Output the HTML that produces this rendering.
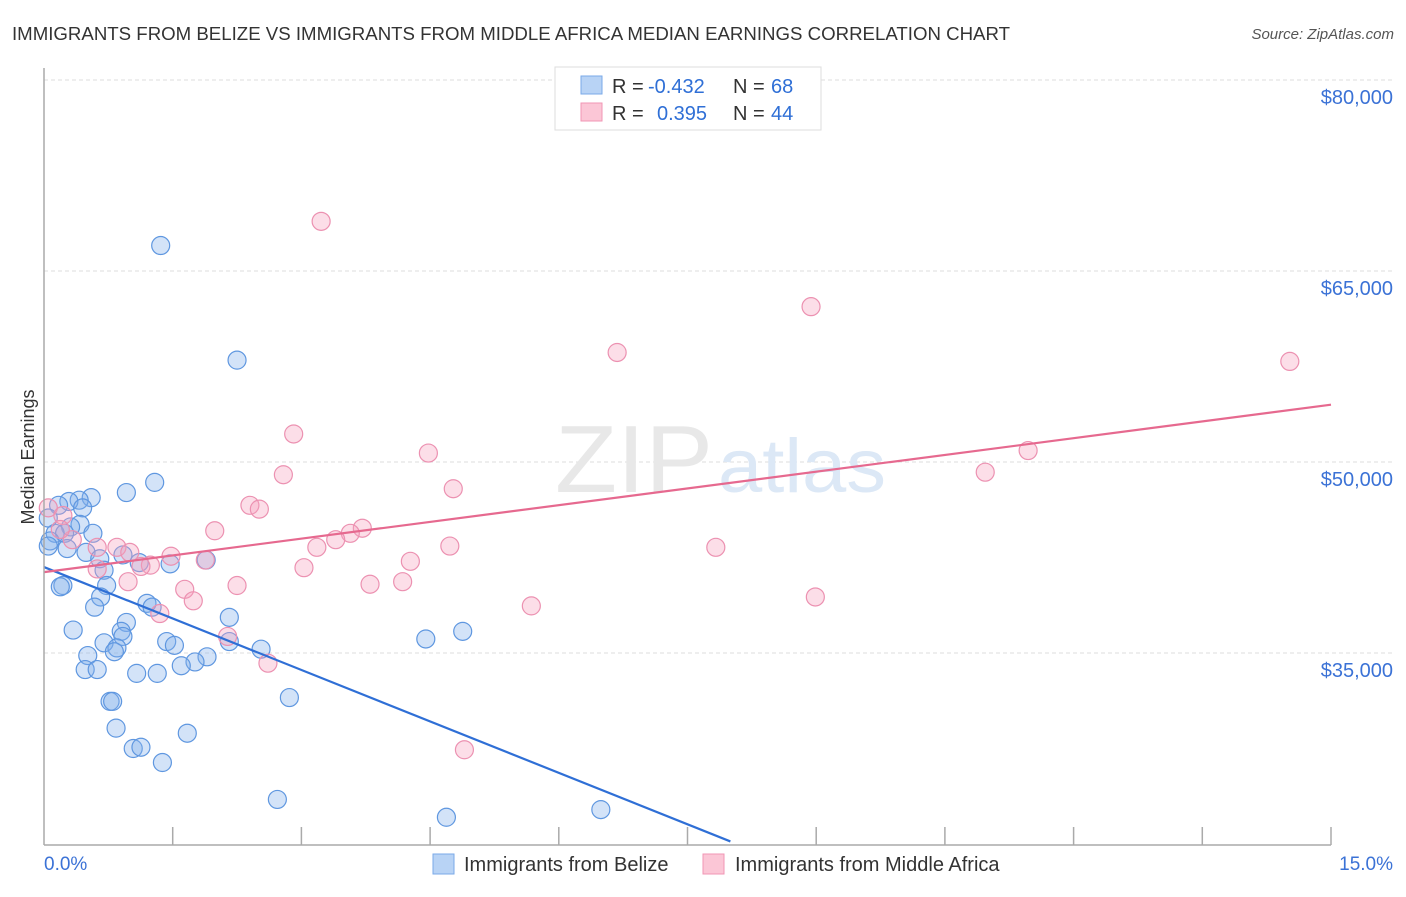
<!DOCTYPE html>
<html><head><meta charset="utf-8">
<style>
body{margin:0;background:#fff;font-family:"Liberation Sans",sans-serif;}
svg text{font-family:"Liberation Sans",sans-serif;}
</style></head>
<body>
<svg id="chart" width="1406" height="892" xmlns="http://www.w3.org/2000/svg">
<text x="12" y="40" font-size="18" fill="#333" textLength="998" lengthAdjust="spacingAndGlyphs">IMMIGRANTS FROM BELIZE VS IMMIGRANTS FROM MIDDLE AFRICA MEDIAN EARNINGS CORRELATION CHART</text>
<text x="1394" y="39" font-size="15" fill="#555" font-style="italic" text-anchor="end">Source: ZipAtlas.com</text>
<g id="grid"></g>
<g><text x="555" y="492" font-size="96" fill="#e8e8e8" font-family="Liberation Serif" textLength="158" lengthAdjust="spacingAndGlyphs">ZIP</text><text x="718" y="492" font-size="76" fill="#dce8f6" textLength="168" lengthAdjust="spacingAndGlyphs">atlas</text></g>
<g id="pts"></g>
<g id="trends"></g>
<g id="axes"></g>
<text transform="translate(34,457) rotate(-90)" font-size="18" fill="#333" text-anchor="middle">Median Earnings</text>
<g>
<rect x="555" y="67" width="266" height="63" fill="#fff" stroke="#ddd"/>
<rect x="581" y="76" width="21" height="18" fill="#b8d3f5" stroke="#7aaae8"/>
<rect x="581" y="103" width="21" height="18" fill="#fbc6d6" stroke="#f096b4"/>
<text x="612" y="93" font-size="20" fill="#333">R = <tspan x="648" fill="#2f6fd6">-0.432</tspan><tspan x="733">N = </tspan><tspan x="771" fill="#2f6fd6">68</tspan></text>
<text x="612" y="120" font-size="20" fill="#333">R = <tspan x="657" fill="#2f6fd6">0.395</tspan><tspan x="733">N = </tspan><tspan x="771" fill="#2f6fd6">44</tspan></text>
</g>
<g>
<rect x="433" y="854" width="21" height="20" fill="#b8d3f5" stroke="#7aaae8"/>
<text x="464" y="871" font-size="20" fill="#333">Immigrants from Belize</text>
<rect x="703" y="854" width="21" height="20" fill="#fbc6d6" stroke="#f096b4"/>
<text x="735" y="871" font-size="20" fill="#333">Immigrants from Middle Africa</text>
</g>
</svg>
<script>
const yTicks=[35000,50000,65000,80000];
const yTickLabels=["$35,000","$50,000","$65,000","$80,000"];
const xTickLabels=["0.0%","15.0%"];
const belizeX=[1.36,2.25,1.29,0.96,0.55,0.41,0.29,0.17,0.45,0.05,0.42,0.31,0.13,0.57,0.24,0.07,0.05,0.27,0.92,0.49,0.65,1.11,1.47,1.89,0.70,0.22,0.19,0.73,0.66,0.59,1.20,1.26,2.16,0.96,0.34,0.90,0.92,1.43,1.52,0.70,0.85,0.82,0.51,2.53,4.45,4.88,1.90,1.76,1.60,0.48,0.62,1.08,1.32,0.77,0.80,2.86,0.84,1.67,1.04,1.13,1.38,2.72,4.69,6.49,2.16];
const belizeY=[67.0,58.0,48.4,47.6,47.2,47.0,46.9,46.6,46.4,45.6,45.1,44.9,44.4,44.4,44.4,43.8,43.4,43.2,42.7,42.9,42.4,42.1,42.0,42.3,41.5,40.3,40.2,40.3,39.4,38.6,38.9,38.6,37.8,37.4,36.8,36.7,36.3,35.9,35.6,35.8,35.4,35.1,34.8,35.3,36.1,36.7,34.7,34.3,34.0,33.7,33.7,33.4,33.4,31.2,31.2,31.5,29.1,28.7,27.5,27.6,26.4,23.5,22.1,22.7,35.9];
const africaX=[3.23,8.94,6.68,14.52,2.91,4.48,11.47,10.97,2.79,4.77,2.40,2.51,0.05,0.22,1.99,3.71,3.57,3.40,3.18,4.73,7.83,0.62,0.85,1.00,1.48,1.24,1.13,4.27,1.88,3.03,0.62,0.98,2.25,3.80,4.18,1.64,1.74,1.35,8.99,5.68,2.14,2.61,4.90,0.33,0.19];
const africaY=[68.9,62.2,58.6,57.9,52.2,50.7,50.9,49.2,49.0,47.9,46.6,46.3,46.4,45.8,44.6,44.8,44.4,43.9,43.3,43.4,43.3,43.3,43.3,42.9,42.6,41.9,41.8,42.2,42.3,41.7,41.6,40.6,40.3,40.4,40.6,40.0,39.1,38.1,39.4,38.7,36.3,34.2,27.4,43.9,44.7];
const belizeTrend=[0,41.75,8.0,20.2];
const africaTrend=[0,41.35,15,54.5];

const X0=44,X1=1331,Ybot=844;
const xs=v=>X0+(v/15)*(X1-X0);
const ys=v=>Ybot-(v-20)*(191/15);
const NS="http://www.w3.org/2000/svg";
function mk(tag,attrs,parent){const e=document.createElementNS(NS,tag);for(const k in attrs)e.setAttribute(k,attrs[k]);parent.appendChild(e);return e;}
const grid=document.getElementById('grid'),axes=document.getElementById('axes'),pts=document.getElementById('pts'),tr=document.getElementById('trends');
yTicks.forEach((t,i)=>{const y=ys(t/1000);
 const l=mk('line',{x1:X0,x2:1393,y1:y,y2:y,stroke:'#ddd','stroke-dasharray':'4,3'},grid);
 
 
 const tx=mk('text',{x:1393,y:y+24,'font-size':20,fill:'#3b72d6','text-anchor':'end'},grid);tx.textContent=yTickLabels[i];
 
 
});
mk('line',{x1:X0,x2:X0,y1:68,y2:845,stroke:'#aaa','stroke-width':1.5},axes);
mk('line',{x1:X0,x2:X1,y1:845,y2:845,stroke:'#aaa','stroke-width':1.5},axes);
for(let i=1;i<=10;i++){const x=xs(i*1.5);mk('line',{x1:x,x2:x,y1:827,y2:845,stroke:'#aaa','stroke-width':1.5},axes);}
const xl0=mk('text',{x:44,y:870,'font-size':19,fill:'#3b72d6'},axes);xl0.textContent=xTickLabels[0];


const xl1=mk('text',{x:1393,y:870,'font-size':19,fill:'#3b72d6','text-anchor':'end'},axes);xl1.textContent=xTickLabels[1];


belizeX.forEach((v,i)=>{const c=mk('circle',{cx:xs(v),cy:ys(belizeY[i]),r:9,fill:'rgba(130,176,235,0.35)',stroke:'#5f97e0','stroke-width':1.2},pts);
 
 });
africaX.forEach((v,i)=>{const c=mk('circle',{cx:xs(v),cy:ys(africaY[i]),r:9,fill:'rgba(245,160,190,0.35)',stroke:'#ec91b1','stroke-width':1.2},pts);
 
 });
const bt=mk('line',{x1:xs(belizeTrend[0]),y1:ys(belizeTrend[1]),x2:xs(belizeTrend[2]),y2:ys(belizeTrend[3]),stroke:'#2f6fd6','stroke-width':2.2},tr);


const at=mk('line',{x1:xs(africaTrend[0]),y1:ys(africaTrend[1]),x2:xs(africaTrend[2]),y2:ys(africaTrend[3]),stroke:'#e6698f','stroke-width':2.2},tr);


</script>
</body></html>
